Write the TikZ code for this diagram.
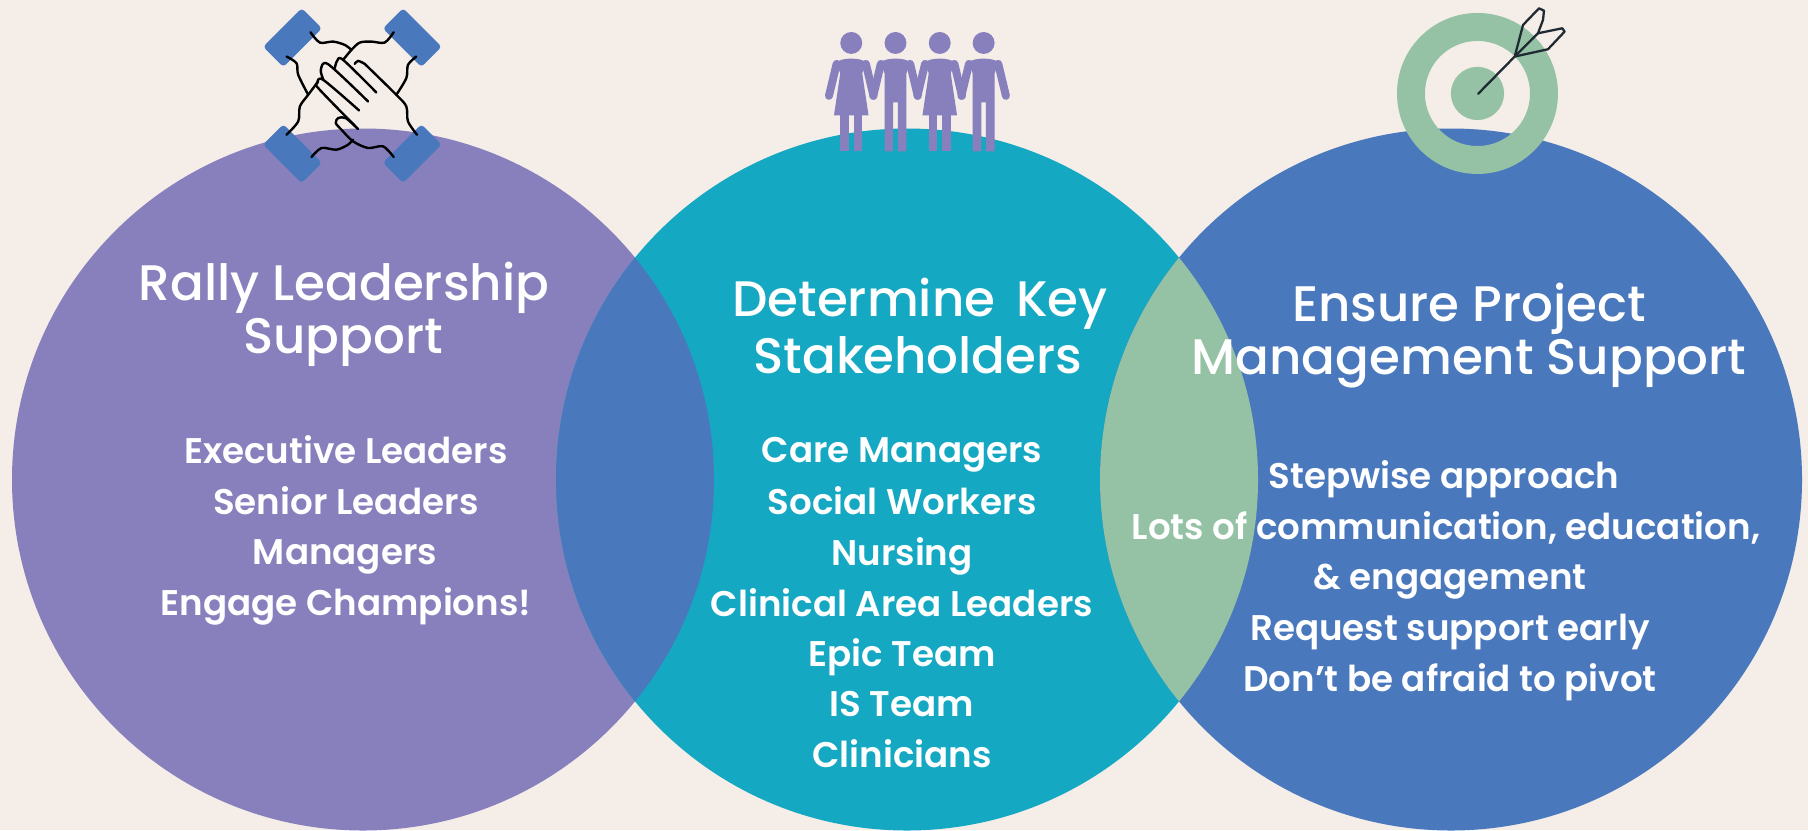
\documentclass[tikz,border=0pt]{standalone}
\usepackage{fontspec}
\setmainfont{Poppins Medium}
\newfontfamily\itemfont{Poppins SemiBold}
\definecolor{bgcream}{HTML}{F4EDE8}
\definecolor{rallypurple}{HTML}{8880BC}
\definecolor{keyteal}{HTML}{14A8C2}
\definecolor{projblue}{HTML}{4A78BD}
\definecolor{targetgreen}{HTML}{95C2A4}
\definecolor{dartink}{HTML}{1F2A33}
\tikzset{
  titletext/.style={anchor=base, text=white, inner sep=0pt, font=\fontsize{14.2}{16}\selectfont},
  itemtext/.style={anchor=base, text=white, inner sep=0pt, font=\itemfont\fontsize{10.15}{12}\selectfont},
  handline/.style={draw=black, line width=0.68pt, line cap=round, line join=round},
  handbox/.style={fill=projblue, rounded corners=1pt},
  dartline/.style={draw=dartink, line width=0.65pt, line cap=round, line join=round},
  limb/.style={draw=rallypurple, line width=0.08cm, line cap=round},
  woman/.pic={
    \fill[rallypurple] (0,69) circle [radius=33];
    \fill[rallypurple] (-46,128) .. controls (-30,112) and (30,112) .. (46,128) -- (33,160) -- (52,287) -- (-52,287) -- (-33,160) -- cycle;
    \fill[rallypurple] (-33,287) rectangle (-7,395);
    \fill[rallypurple] (7,287) rectangle (33,395);
    \draw[limb] (-44,132) -- (-67,228);
    \draw[limb] (44,132) -- (67,228);
  },
  man/.pic={
    \fill[rallypurple] (0,69) circle [radius=33];
    \fill[rallypurple] (-46,128) .. controls (-30,112) and (30,112) .. (46,128) -- (33,160) -- (33,395) -- (7,395) -- (7,248) -- (-7,248) -- (-7,395) -- (-33,395) -- (-33,160) -- cycle;
    \draw[limb] (-44,132) -- (-67,228);
    \draw[limb] (44,132) -- (67,228);
  },
}
\begin{document}
\begin{tikzpicture}
  \useasboundingbox (0,0) rectangle (18.08,8.30);
  \fill[bgcream] (0,0) rectangle (18.08,8.30);
  % three circles and the two overlaps
  \fill[rallypurple] (3.63,3.505) circle [radius=3.51];
  \fill[keyteal] (9.07,3.505) circle [radius=3.51];
  \fill[projblue] (14.51,3.505) circle [radius=3.51];
  \begin{scope}
    \clip (3.63,3.505) circle [radius=3.51];
    \fill[projblue] (9.07,3.505) circle [radius=3.51];
  \end{scope}
  \begin{scope}
    \clip (9.07,3.505) circle [radius=3.51];
    \fill[targetgreen] (14.51,3.505) circle [radius=3.51];
  \end{scope}
  % hands
  \begin{scope}[shift={(2.40,8.30)}, x=0.003333cm, y=-0.003333cm]
    \fill[handbox, rotate around={45:(158,113)}] (76,70) rectangle (240,156);
    \fill[handbox, rotate around={-45:(518,113)}] (436,70) rectangle (600,156);
    \fill[handbox, rotate around={-45:(158,462)}] (76,419) rectangle (240,505);
    \fill[handbox, rotate around={45:(518,462)}] (436,419) rectangle (600,505);
    \draw[handline] plot[smooth] coordinates {(212,97) (240,128) (280,125) (315,135) (335,150)};
    \draw[handline] plot[smooth] coordinates {(462,97) (435,128) (395,125) (360,128) (335,150) (310,180)};
    \draw[handline] plot[smooth] coordinates {(140,170) (170,190) (175,225) (205,285)};
    \draw[handline] plot[smooth] coordinates {(140,405) (175,365) (180,320) (205,285) (235,245)};
    \draw[handline] plot[smooth] coordinates {(530,170) (505,195) (500,235) (470,285)};
    \draw[handline] plot[smooth] coordinates {(375,192) (470,285) (500,320) (505,365) (532,405)};
    \draw[handline] plot[smooth] coordinates {(215,472) (245,445) (290,450) (325,435) (340,420)};
    \draw[handline] plot[smooth] coordinates {(462,472) (430,440) (385,445) (340,425) (305,390) (288,370) (295,355) (318,355) (355,388)};
    \draw[handline] plot[smooth] coordinates {(355,388) (238,268) (232,250) (250,240) (358,332)};
    \draw[handline] plot[smooth] coordinates {(250,238) (243,210) (265,193) (385,305)};
    \draw[handline] plot[smooth] coordinates {(285,205) (292,183) (310,180) (410,278)};
    \draw[handline] plot[smooth] coordinates {(345,192) (355,183) (375,192)};
  \end{scope}
  % people
  \begin{scope}[shift={(8.10,8.10)}, x=0.003333cm, y=-0.003333cm]
    \pic at (124,0) {woman};
    \pic at (257,0) {man};
    \pic at (390,0) {woman};
    \pic at (522,0) {man};
  \end{scope}
  % target
  \begin{scope}[shift={(13.80,8.30)}, x=0.003333cm, y=-0.003333cm]
    \fill[targetgreen, even odd rule] (293,281) circle [radius=242] (293,281) circle [radius=158];
    \fill[targetgreen] (293,281) circle [radius=80];
    \draw[dartline] (295,282) -- (405,170) -- (430,75) -- (478,25) -- (493,32) -- (490,60) -- (475,100) -- (405,170);
    \draw[dartline] (475,100) -- (548,85) -- (555,95) -- (505,148) -- (405,170);
  \end{scope}
  % left circle
  \node[titletext] (rallytop) at (3.44,5.30) {Rally Leadership};
  \node[titletext] (rallybot) at (3.43,4.77) {Support};
  \node[itemtext] (execlead) at (3.46,3.67) {Executive Leaders};
  \node[itemtext] (seniorlead) at (3.46,3.16) {Senior Leaders};
  \node[itemtext] (managers) at (3.45,2.66) {Managers};
  \node[itemtext] (champions) at (3.46,2.15) {Engage Champions!};
  % middle circle
  \node[titletext] (keytop) at (9.20,5.14) {Determine\hspace{0.16em} Key};
  \node[titletext] (keybot) at (9.18,4.565) {Stakeholders};
  \node[itemtext] (caremgr) at (9.02,3.675) {Care Managers};
  \node[itemtext] (social) at (9.02,3.16) {Social Workers};
  \node[itemtext] (nursing) at (9.02,2.65) {Nursing};
  \node[itemtext] (clinarea) at (9.02,2.14) {Clinical Area Leaders};
  \node[itemtext] (epic) at (9.02,1.64) {Epic Team};
  \node[itemtext] (isteam) at (9.02,1.14) {IS Team};
  \node[itemtext] (clinicians) at (9.02,0.63) {Clinicians};
  % right circle
  \node[titletext] (projtop) at (14.69,5.09) {Ensure Project};
  \node[titletext] (projbot) at (14.69,4.56) {Management Support};
  \node[itemtext] (stepwise) at (14.44,3.42) {Stepwise approach};
  \node[itemtext] (lots) at (14.46,2.91) {Lots of communication, education,};
  \node[itemtext] (engage) at (14.50,2.41) {\& engagement};
  \node[itemtext] (request) at (14.50,1.90) {Request support early};
  \node[itemtext] (pivot) at (14.50,1.39) {Don’t be afraid to pivot};
\end{tikzpicture}
\end{document}
